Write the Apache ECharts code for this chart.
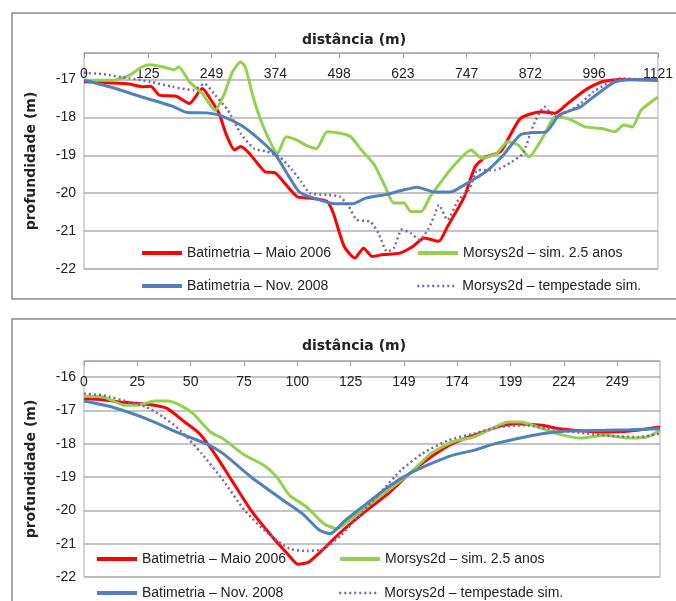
<!DOCTYPE html>
<html>
<head>
<meta charset="utf-8">
<script src="https://cdn.jsdelivr.net/npm/echarts@6/dist/echarts.min.js"></script>
<style>html,body{margin:0;padding:0;background:#fff}#c{width:676px;height:601px}</style>
</head>
<body>
<div id="c"></div>
<script>
// ---- panel 1 (0..1121 m) ----
const topMaio2006 = [[0,-17.06],[88,-17.12],[113,-17.19],[130,-17.18],[147,-17.41],[180,-17.44],[206,-17.63],[231,-17.24],[248,-17.54],[264,-17.9],[277,-18.42],[294,-18.86],[306,-18.77],[323,-18.95],[353,-19.43],[374,-19.47],[416,-20.09],[441,-20.13],[475,-20.22],[487,-20.53],[508,-21.4],[529,-21.71],[546,-21.45],[563,-21.67],[584,-21.62],[617,-21.58],[643,-21.4],[664,-21.18],[693,-21.27],[710,-20.88],[743,-20.09],[764,-19.3],[785,-19.04],[814,-18.9],[852,-18.03],[894,-17.85],[920,-17.89],[945,-17.63],[979,-17.28],[1012,-17.06],[1046,-17],[1121,-17.02]];
const topNov2008 = [[0,-17.02],[55,-17.21],[113,-17.46],[172,-17.7],[201,-17.87],[239,-17.88],[264,-17.94],[306,-18.2],[340,-18.55],[374,-18.99],[420,-19.96],[449,-20.13],[491,-20.28],[525,-20.28],[550,-20.13],[592,-20.03],[625,-19.91],[651,-19.84],[685,-19.97],[718,-19.96],[743,-19.78],[785,-19.43],[819,-18.99],[852,-18.46],[878,-18.4],[903,-18.38],[928,-17.94],[970,-17.72],[995,-17.46],[1037,-17.06],[1071,-17],[1121,-17]];
const topSim25 = [[0,-17.02],[55,-17.02],[88,-16.89],[113,-16.67],[130,-16.61],[155,-16.67],[176,-16.74],[185,-16.67],[206,-17.06],[231,-17.37],[256,-17.81],[273,-17.41],[290,-16.8],[306,-16.54],[315,-16.67],[332,-17.54],[353,-18.33],[378,-18.95],[395,-18.51],[416,-18.6],[433,-18.73],[454,-18.82],[475,-18.38],[500,-18.42],[521,-18.51],[542,-18.86],[567,-19.25],[588,-19.82],[605,-20.26],[625,-20.26],[638,-20.48],[659,-20.48],[676,-20.09],[693,-19.78],[718,-19.34],[756,-18.86],[777,-19.08],[806,-18.95],[827,-18.64],[848,-18.73],[869,-19.04],[899,-18.46],[920,-17.98],[945,-18.03],[979,-18.25],[1012,-18.29],[1037,-18.38],[1054,-18.2],[1071,-18.25],[1088,-17.81],[1121,-17.46]];
const topTempestade = [[0,-16.82],[38,-16.86],[88,-16.97],[130,-17.06],[172,-17.19],[214,-17.28],[235,-17.11],[256,-17.41],[281,-17.81],[306,-18.42],[332,-18.82],[357,-18.9],[382,-19.04],[407,-19.39],[424,-19.69],[441,-20],[475,-20.04],[500,-20.09],[517,-20.35],[533,-20.7],[559,-20.75],[575,-21.05],[592,-21.54],[605,-21.45],[621,-20.96],[638,-21.05],[655,-21.23],[672,-20.96],[685,-20.57],[693,-20.31],[710,-20.7],[731,-20.18],[752,-19.91],[769,-19.39],[802,-19.39],[836,-19.17],[857,-18.95],[878,-18.2],[899,-17.72],[920,-17.98],[945,-17.85],[970,-17.63],[995,-17.32],[1029,-17.06],[1046,-16.97],[1096,-17],[1121,-17]];

// ---- panel 2 (0..269 m) ----
const botMaio2006 = [[0,-16.65],[9,-16.68],[17,-16.75],[27,-16.8],[33,-16.85],[39,-16.95],[47,-17.35],[54,-17.7],[61,-18.3],[69,-19.1],[78,-20],[88,-20.8],[95,-21.3],[100,-21.62],[105,-21.55],[112,-21.15],[120,-20.65],[132,-20],[142,-19.5],[152,-18.9],[162,-18.4],[172,-18],[182,-17.75],[194,-17.48],[202,-17.4],[214,-17.45],[222,-17.55],[243,-17.65],[255,-17.62],[269,-17.5]];
const botNov2008 = [[0,-16.72],[13,-16.9],[29,-17.25],[45,-17.7],[57,-18],[65,-18.3],[78,-19],[92,-19.65],[102,-20.1],[110,-20.6],[115,-20.7],[122,-20.3],[132,-19.8],[142,-19.3],[152,-18.9],[162,-18.6],[172,-18.35],[182,-18.2],[192,-18],[202,-17.85],[214,-17.7],[226,-17.62],[243,-17.6],[255,-17.58],[269,-17.55]];
const botSim25 = [[0,-16.58],[9,-16.6],[19,-16.85],[25,-16.85],[33,-16.72],[39,-16.72],[45,-16.85],[51,-17.1],[59,-17.65],[65,-17.85],[74,-18.3],[84,-18.65],[90,-19],[96,-19.55],[104,-19.9],[112,-20.4],[118,-20.55],[124,-20.3],[132,-19.9],[142,-19.4],[152,-18.9],[162,-18.3],[172,-17.95],[182,-17.8],[192,-17.5],[198,-17.35],[204,-17.35],[214,-17.55],[222,-17.72],[232,-17.83],[243,-17.75],[255,-17.83],[263,-17.8],[269,-17.6]];
const botTempestade = [[0,-16.5],[9,-16.55],[21,-16.75],[29,-16.9],[37,-17.2],[45,-17.6],[55,-18.3],[65,-19.1],[75,-20],[86,-20.7],[96,-21.15],[104,-21.22],[112,-21.15],[120,-20.75],[128,-20.2],[138,-19.5],[148,-18.8],[158,-18.3],[170,-17.9],[182,-17.7],[194,-17.5],[206,-17.45],[220,-17.58],[235,-17.7],[249,-17.78],[259,-17.8],[269,-17.7]];

const names = ['Batimetria – Maio 2006', 'Morsys2d – sim. 2.5 anos', 'Batimetria – Nov. 2008', 'Morsys2d – tempestade sim.'];
const colors = ['#ff0000', '#92d050', '#4f81bd', '#8064a2'];

const FONT = 'Liberation Sans';
const chart = echarts.init(document.getElementById('c'));

const mkSeries = (data, i, idx) => ({
    type: 'line', name: names[i] + (idx ? ' ' : ''),
    xAxisIndex: idx, yAxisIndex: idx, data, symbol: 'none', smooth: 0.2,
    lineStyle: {color: colors[i], width: i === 3 ? 2.5 : 3, type: i === 3 ? [2, 3] : 'solid'},
    itemStyle: {color: colors[i]}
});

// legend positions per panel
const legendAt = (idx, rowY) => [
    {i: 0, left: idx ? 95 : 140, top: rowY[0]}, {i: 1, left: idx ? 338 : 416, top: rowY[0]},
    {i: 2, left: idx ? 95 : 140, top: rowY[1]}, {i: 3, left: idx ? 338 : 416, top: rowY[1]}
].map(p => ({
    data: [names[p.i] + (idx ? ' ' : '')], left: p.left, top: p.top,
    itemWidth: 40, itemHeight: 12, itemGap: 4, padding: 0,
    itemStyle: {opacity: 0},
    lineStyle: {width: p.i === 3 ? 2.5 : 4},
    textStyle: {fontFamily: FONT, fontSize: 14, color: '#222'}
}));

const xAx = (idx, max, interval) => ({
    type: 'value', gridIndex: idx, position: 'top', min: 0, max, interval,
    axisLine: {show: true, lineStyle: {color: '#a6a6c8'}},
    axisTick: {show: true, inside: true, length: 5, lineStyle: {color: '#999'}},
    axisLabel: {inside: true, margin: 14, showMaxLabel: idx === 0, fontFamily: FONT, fontSize: 14, color: '#222',
        formatter: v => Math.round(v)},
    splitLine: {show: false}
});
const yAx = (idx, max) => ({
    type: 'value', gridIndex: idx, min: -22, max, interval: 1,
    name: 'profundidade (m)', nameLocation: 'middle', nameGap: 46, nameRotate: 90,
    nameTextStyle: {fontFamily: 'DejaVu Sans', fontWeight: 'bold', fontSize: 14, color: '#222'},
    axisLine: {show: false}, axisTick: {show: false},
    axisLabel: {fontFamily: FONT, fontSize: 14, color: '#222', margin: 8, showMaxLabel: false},
    splitLine: {lineStyle: {color: '#b0b0b0', width: 1.5}}
});

chart.setOption({
    animation: false,
    title: [
        {text: 'distância (m)', left: 349, top: 28, textAlign: 'center',
            textStyle: {fontFamily: 'DejaVu Sans', fontSize: 14, fontWeight: 'bold', color: '#222'}},
        {text: 'distância (m)', left: 349, top: 334, textAlign: 'center',
            textStyle: {fontFamily: 'DejaVu Sans', fontSize: 14, fontWeight: 'bold', color: '#222'}}
    ],
    graphic: [
        {type: 'rect', shape: {x: 12, y: 13, width: 700, height: 286}, style: {fill: 'none', stroke: '#888', lineWidth: 1.5}, silent: true},
        {type: 'rect', shape: {x: 12, y: 319, width: 700, height: 320}, style: {fill: 'none', stroke: '#888', lineWidth: 1.5}, silent: true}
    ],
    grid: [
        {left: 84, top: 53, width: 576, height: 216, show: true, borderColor: '#a6a6c8', borderWidth: 1},
        {left: 84, top: 361, width: 576, height: 216, show: true, borderColor: '#a6a6c8', borderWidth: 1}
    ],
    legend: [...legendAt(0, [246, 279]), ...legendAt(1, [552, 586])],
    xAxis: [xAx(0, 1121, 1121 / 9), xAx(1, 269, 24.9)],
    yAxis: [yAx(0, -16.3), yAx(1, -15.52)],
    series: [
        mkSeries(topMaio2006, 0, 0), mkSeries(topSim25, 1, 0), mkSeries(topNov2008, 2, 0), mkSeries(topTempestade, 3, 0),
        mkSeries(botMaio2006, 0, 1), mkSeries(botSim25, 1, 1), mkSeries(botNov2008, 2, 1), mkSeries(botTempestade, 3, 1)
    ]
});
</script>
</body>
</html>
